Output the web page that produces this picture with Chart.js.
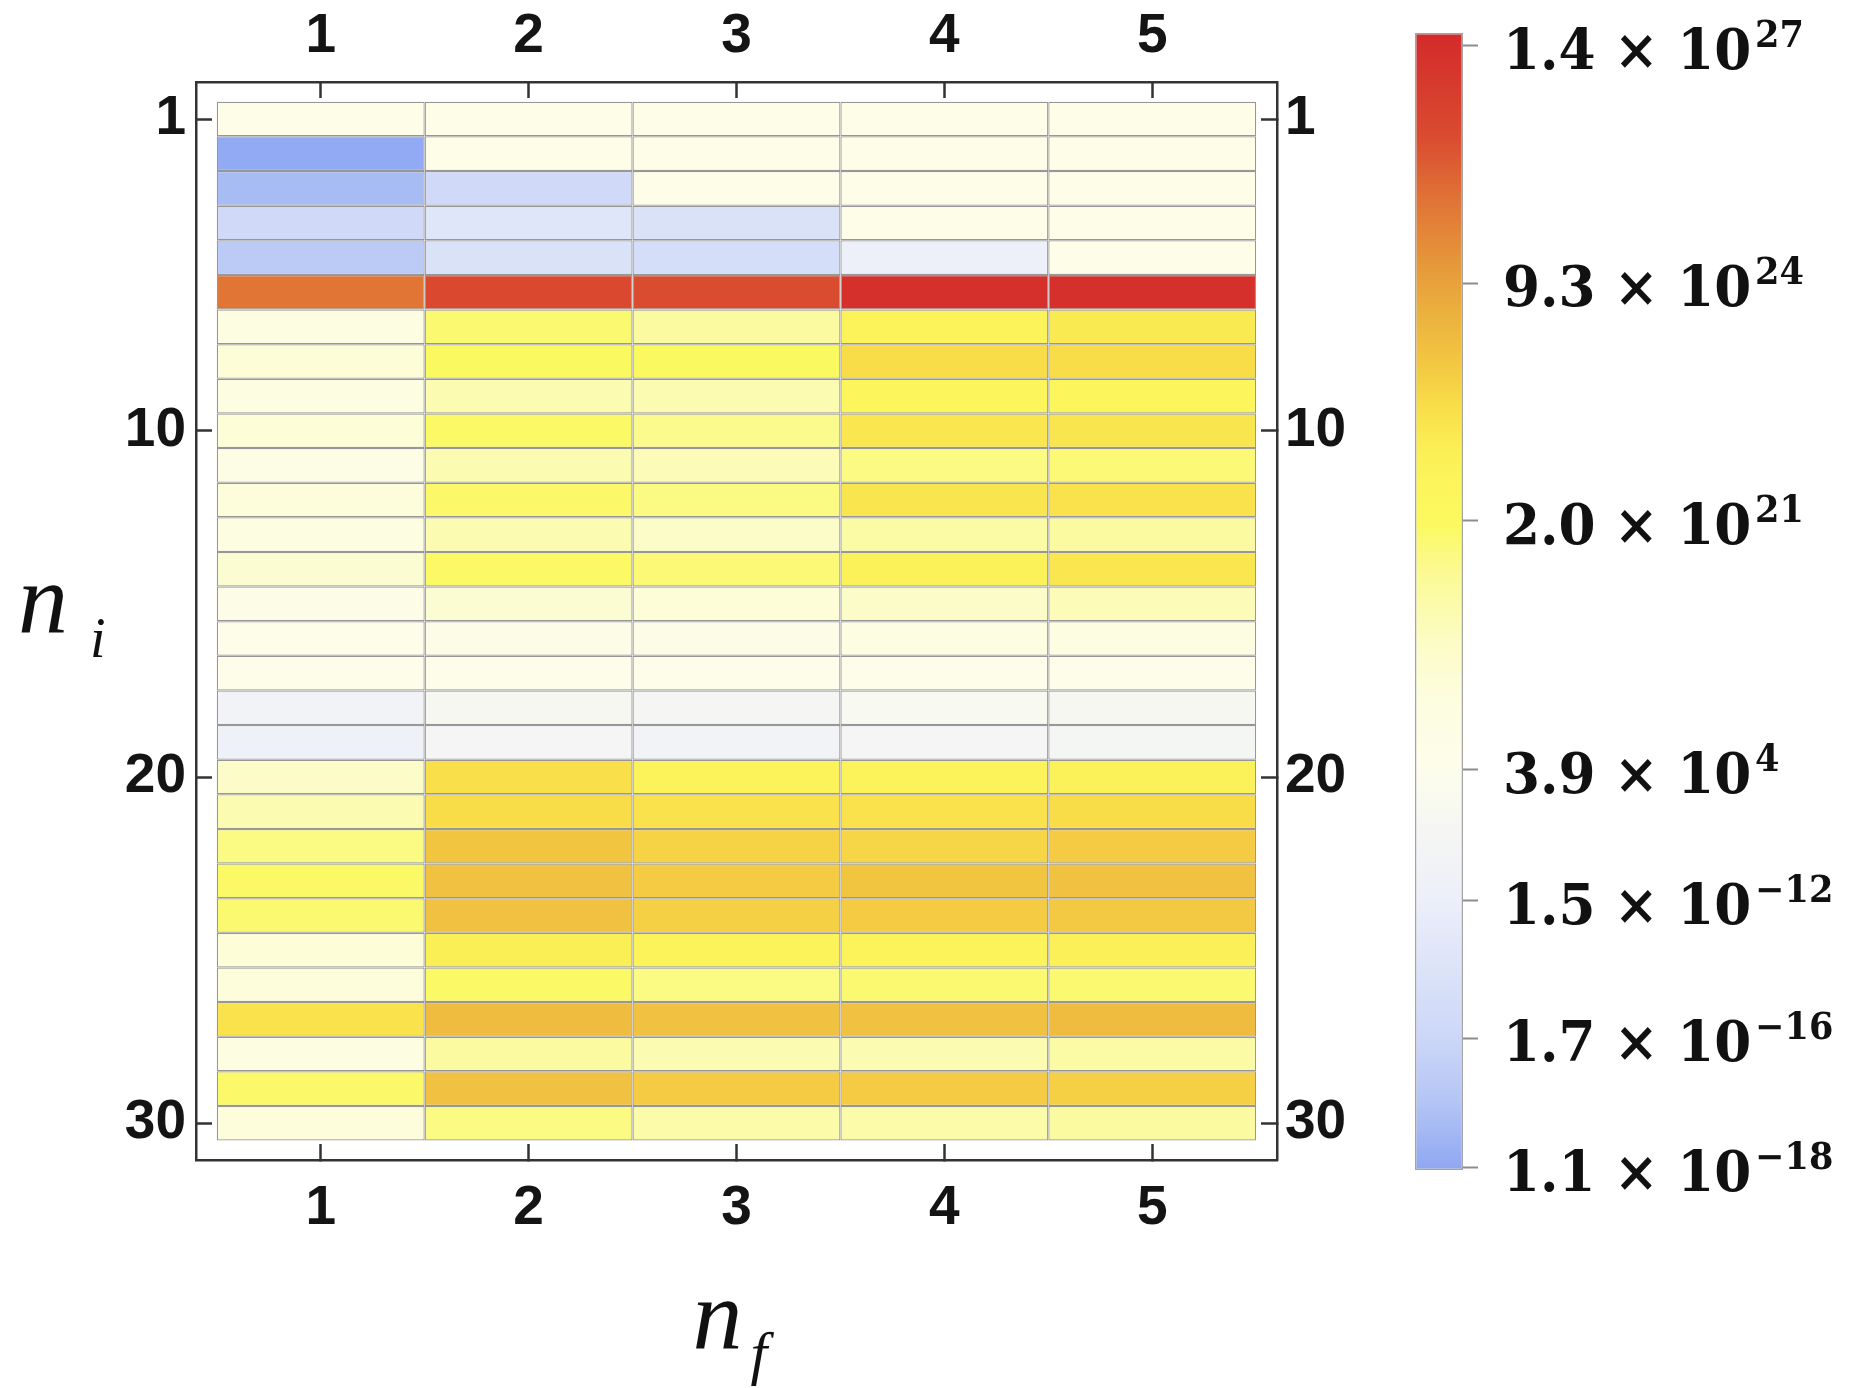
<!DOCTYPE html>
<html>
<head>
<meta charset="utf-8">
<script src="https://cdn.jsdelivr.net/npm/chart.js@4.4.1/dist/chart.umd.min.js"></script>
<style>
  html, body { margin: 0; padding: 0; background: #ffffff; }
  #wrap { position: relative; width: 1856px; height: 1388px; overflow: hidden; background: #ffffff; }
  #heat { position: absolute; left: 0; top: 0; }
  #bar { position: absolute; left: 1400px; top: 0; }
</style>
</head>
<body>
<div id="wrap">
  <canvas id="heat" width="1400" height="1388"></canvas>
  <canvas id="bar" width="456" height="1388"></canvas>
</div>
<script>
// Rows: initial level n_i, columns: final level n_f
const niLevels = [1, 2, 3, 4, 5, 6, 7, 8, 9, 10, 11, 12, 13, 14, 15, 16, 17, 18, 19, 20, 21, 22, 23, 24, 25, 26, 27, 28, 29, 30];
const nfLevels = [1, 2, 3, 4, 5];
const niTicks = [1, 10, 20, 30];
const nfTicks = [1, 2, 3, 4, 5];

// log10 of the value in every cell, one array per n_f column, rows n_i = 1..30
const logValueNf1 = [6.0, -17.9, -17.2, -15.3, -16.5, 25.7, 9.0, 10.5, 8.3, 10.5, 7.5, 9.8, 8.3, 11.3, 6.7, 5.6, 5.2, -7.1, -9.3, 12.8, 15.1, 18.9, 20.8, 20.1, 10.5, 10.0, 22.9, 8.3, 20.5, 9.8];
const logValueNf2 = [6.0, 6.0, -15.3, -13.4, -14.0, 26.4, 20.1, 21.2, 15.1, 20.8, 15.1, 20.5, 15.1, 20.8, 11.3, 6.7, 5.2, -1.4, -4.3, 23.0, 23.1, 23.8, 23.9, 23.9, 22.4, 20.8, 24.1, 16.6, 23.9, 18.9];
const logValueNf3 = [6.0, 6.0, 6.0, -14.0, -14.7, 26.3, 16.6, 21.2, 15.1, 18.2, 14.4, 18.9, 12.8, 19.7, 10.5, 6.7, 5.2, -2.8, -7.1, 22.0, 22.9, 23.4, 23.6, 23.5, 22.0, 18.9, 23.9, 15.1, 23.6, 15.9];
const logValueNf4 = [6.0, 6.0, 6.0, 6.0, -10.0, 27.1, 22.0, 23.1, 21.7, 22.7, 18.9, 22.8, 16.3, 22.2, 12.8, 8.3, 5.2, 0.0, -4.3, 22.0, 22.9, 23.3, 23.8, 23.6, 22.0, 20.1, 23.9, 15.1, 23.6, 15.9];
const logValueNf5 = [6.0, 6.0, 6.0, 6.0, 6.0, 27.1, 22.6, 23.1, 21.7, 22.8, 19.7, 22.9, 16.6, 22.7, 14.4, 8.3, 5.2, -1.4, -3.5, 22.2, 23.1, 23.6, 23.9, 23.7, 22.3, 20.1, 24.1, 16.3, 23.5, 16.6];

// Colour bar ticks: mantissa, power of ten, and where each sits along the bar (0 bottom, 1 top)
const barMantissa = ['1.4', '9.3', '2.0', '3.9', '1.5', '1.7', '1.1'];
const barPower = [27, 24, 21, 4, -12, -16, -18];
const barLevel = [0.989, 0.780, 0.571, 0.352, 0.237, 0.116, 0.002];

// Colour map along the bar
const colorStops = [
  [0.000, '#8fa7f3'], [0.062, '#b5c6f5'], [0.116, '#ccd7f8'], [0.150, '#d5def8'],
  [0.237, '#eceffa'], [0.299, '#f5f6f3'], [0.352, '#fdfdec'], [0.413, '#fdfde0'],
  [0.460, '#fcfcc8'], [0.519, '#fbfa9a'], [0.571, '#fbf95e'], [0.597, '#fcf65c'],
  [0.637, '#fbee55'], [0.675, '#f8dc48'], [0.707, '#f3c842'], [0.755, '#ebb03e'],
  [0.793, '#e69a3a'], [0.852, '#e07436'], [0.911, '#da4a30'], [1.000, '#d42a2a']
];

// value (log10) -> position on the bar, piecewise linear between labelled ticks
const barLog = barMantissa.map((m, i) => Math.log10(parseFloat(m)) + barPower[i]);
const barPairs = barLog.map((l, i) => [l, barLevel[i]]).sort((a, b) => a[0] - b[0]);
function levelOf(v) {
  let k = 0;
  while (k < barPairs.length - 2 && v > barPairs[k + 1][0]) k++;
  const [l0, p0] = barPairs[k], [l1, p1] = barPairs[k + 1];
  const p = p0 + (v - l0) * (p1 - p0) / (l1 - l0);
  return Math.max(0, Math.min(1, p));
}
function hexRgb(h) {
  return [parseInt(h.slice(1, 3), 16), parseInt(h.slice(3, 5), 16), parseInt(h.slice(5, 7), 16)];
}
function colorAt(level) {
  let k = 0;
  while (k < colorStops.length - 2 && level > colorStops[k + 1][0]) k++;
  const [a, ca] = colorStops[k], [b, cb] = colorStops[k + 1];
  const t = Math.max(0, Math.min(1, (level - a) / (b - a)));
  const A = hexRgb(ca), B = hexRgb(cb);
  const c = A.map((x, i) => Math.round(x + (B[i] - x) * t));
  return 'rgb(' + c.join(',') + ')';
}

const frameColor = '#333333';
const tickFont = { family: "'Liberation Sans', Arial, sans-serif", size: 55, weight: 'bold', lineHeight: 1 };

function frameScale(position, padding, fit, tickList, range) {
  return {
    type: 'linear',
    position: position,
    min: range[0],
    max: range[1],
    offset: false,
    reverse: position === 'left' || position === 'right',
    afterBuildTicks: (s) => { s.ticks = tickList.map(v => ({ value: v })); },
    afterFit: fit,
    grid: { offset: false, drawOnChartArea: false, drawTicks: true, tickLength: -16, tickWidth: 2.5, tickColor: frameColor },
    border: { display: true, color: frameColor, width: 2.5 },
    ticks: { color: '#141414', font: tickFont, padding: padding, maxRotation: 0, minRotation: 0, autoSkip: false, callback: (v) => String(v) }
  };
}

const columns = [logValueNf1, logValueNf2, logValueNf3, logValueNf4, logValueNf5];
const datasets = columns.map((vals, c) => ({
  label: 'n_f = ' + nfLevels[c],
  data: vals.map((v, r) => ({ y: niLevels[r], x: [nfLevels[c] - 0.5, nfLevels[c] + 0.5] })),
  backgroundColor: vals.map(v => colorAt(levelOf(v))),
  borderColor: '#979797',
  borderWidth: 1.25,
  borderSkipped: false,
  inflateAmount: 0,
  grouped: false,
  barPercentage: 1,
  categoryPercentage: 1
}));

// italic axis titles with subscripts
const axisTitles = {
  id: 'axisTitles',
  afterDraw(chart) {
    const { ctx, chartArea } = chart;
    const midY = (chartArea.top + chartArea.bottom) / 2;
    const midX = (chartArea.left + chartArea.right) / 2;
    ctx.save();
    ctx.fillStyle = '#111111';
    ctx.textAlign = 'left';
    ctx.textBaseline = 'alphabetic';
    ctx.font = "italic 100px 'Liberation Serif', 'Times New Roman', serif";
    ctx.fillText('n', 18, midY + 11);
    ctx.font = "italic 56px 'Liberation Serif', 'Times New Roman', serif";
    ctx.fillText('i', 90, midY + 36);
    ctx.font = "italic 100px 'Liberation Serif', 'Times New Roman', serif";
    ctx.fillText('n', midX - 44, chartArea.bottom + 188);
    ctx.font = "italic 60px 'Liberation Serif', 'Times New Roman', serif";
    ctx.fillText('f', midX + 14, chartArea.bottom + 213);
    ctx.restore();
  }
};

new Chart(document.getElementById('heat'), {
  type: 'bar',
  data: { datasets: datasets },
  options: {
    indexAxis: 'y',
    responsive: false,
    animation: false,
    devicePixelRatio: 1,
    events: [],
    layout: { padding: 0 },
    plugins: { legend: { display: false }, tooltip: { enabled: false } },
    scales: {
      x: frameScale('bottom', 37, (s) => { s.height = 228; }, nfTicks, [0.4, 5.6]),
      x2: frameScale('top', 34, (s) => { s.height = 82; }, nfTicks, [0.4, 5.6]),
      y: frameScale('left', 26, (s) => { s.width = 196; }, niTicks, [-0.07, 31.06]),
      y2: frameScale('right', 24, (s) => { s.width = 123; }, niTicks, [-0.07, 31.06])
    }
  },
  plugins: [axisTitles]
});

// colour bar tick labels of the form m × 10^p
const barLabels = {
  id: 'barLabels',
  afterDraw(chart) {
    const { ctx, chartArea } = chart;
    const s = chart.scales.y;
    ctx.save();
    ctx.fillStyle = '#111111';
    ctx.textAlign = 'left';
    ctx.textBaseline = 'alphabetic';
    barLevel.forEach((lv, i) => {
      const base = s.getPixelForValue(lv) + 23;
      ctx.save();
      ctx.translate(chartArea.right + 40, base);
      ctx.scale(0.95, 1);
      ctx.font = "bold 56px 'DejaVu Serif', serif";
      const main = barMantissa[i] + ' \u00d7 10';
      ctx.fillText(main, 0, 0);
      const w = ctx.measureText(main).width;
      ctx.font = "bold 37px 'DejaVu Serif', serif";
      const p = barPower[i] < 0 ? '\u2212' + Math.abs(barPower[i]) : String(barPower[i]);
      ctx.fillText(p, w + 4, -22);
      ctx.restore();
    });
    ctx.restore();
  }
};

new Chart(document.getElementById('bar'), {
  type: 'bar',
  data: {
    labels: [''],
    datasets: [{
      data: [[0, 1]],
      backgroundColor: (c) => {
        const area = c.chart.chartArea;
        if (!area) return '#ffffff';
        const g = c.chart.ctx.createLinearGradient(0, area.bottom, 0, area.top);
        colorStops.forEach(([p, col]) => g.addColorStop(p, col));
        return g;
      },
      borderColor: '#a3a3a3',
      borderWidth: 1.5,
      borderSkipped: false,
      inflateAmount: 0,
      barPercentage: 1,
      categoryPercentage: 1
    }]
  },
  options: {
    responsive: false,
    animation: false,
    devicePixelRatio: 1,
    events: [],
    layout: { padding: { left: 15, top: 33, bottom: 218, right: 0 } },
    plugins: { legend: { display: false }, tooltip: { enabled: false } },
    scales: {
      x: { display: false },
      y: {
        type: 'linear',
        position: 'right',
        min: 0,
        max: 1,
        afterBuildTicks: (s) => { s.ticks = barLevel.map(v => ({ value: v })); },
        afterFit: (s) => { s.width = 393; },
        grid: { drawOnChartArea: false, drawTicks: true, tickLength: 15, tickWidth: 2, tickColor: '#8c8c8c' },
        border: { display: false },
        ticks: { display: false }
      }
    }
  },
  plugins: [barLabels]
});
</script>
</body>
</html>
